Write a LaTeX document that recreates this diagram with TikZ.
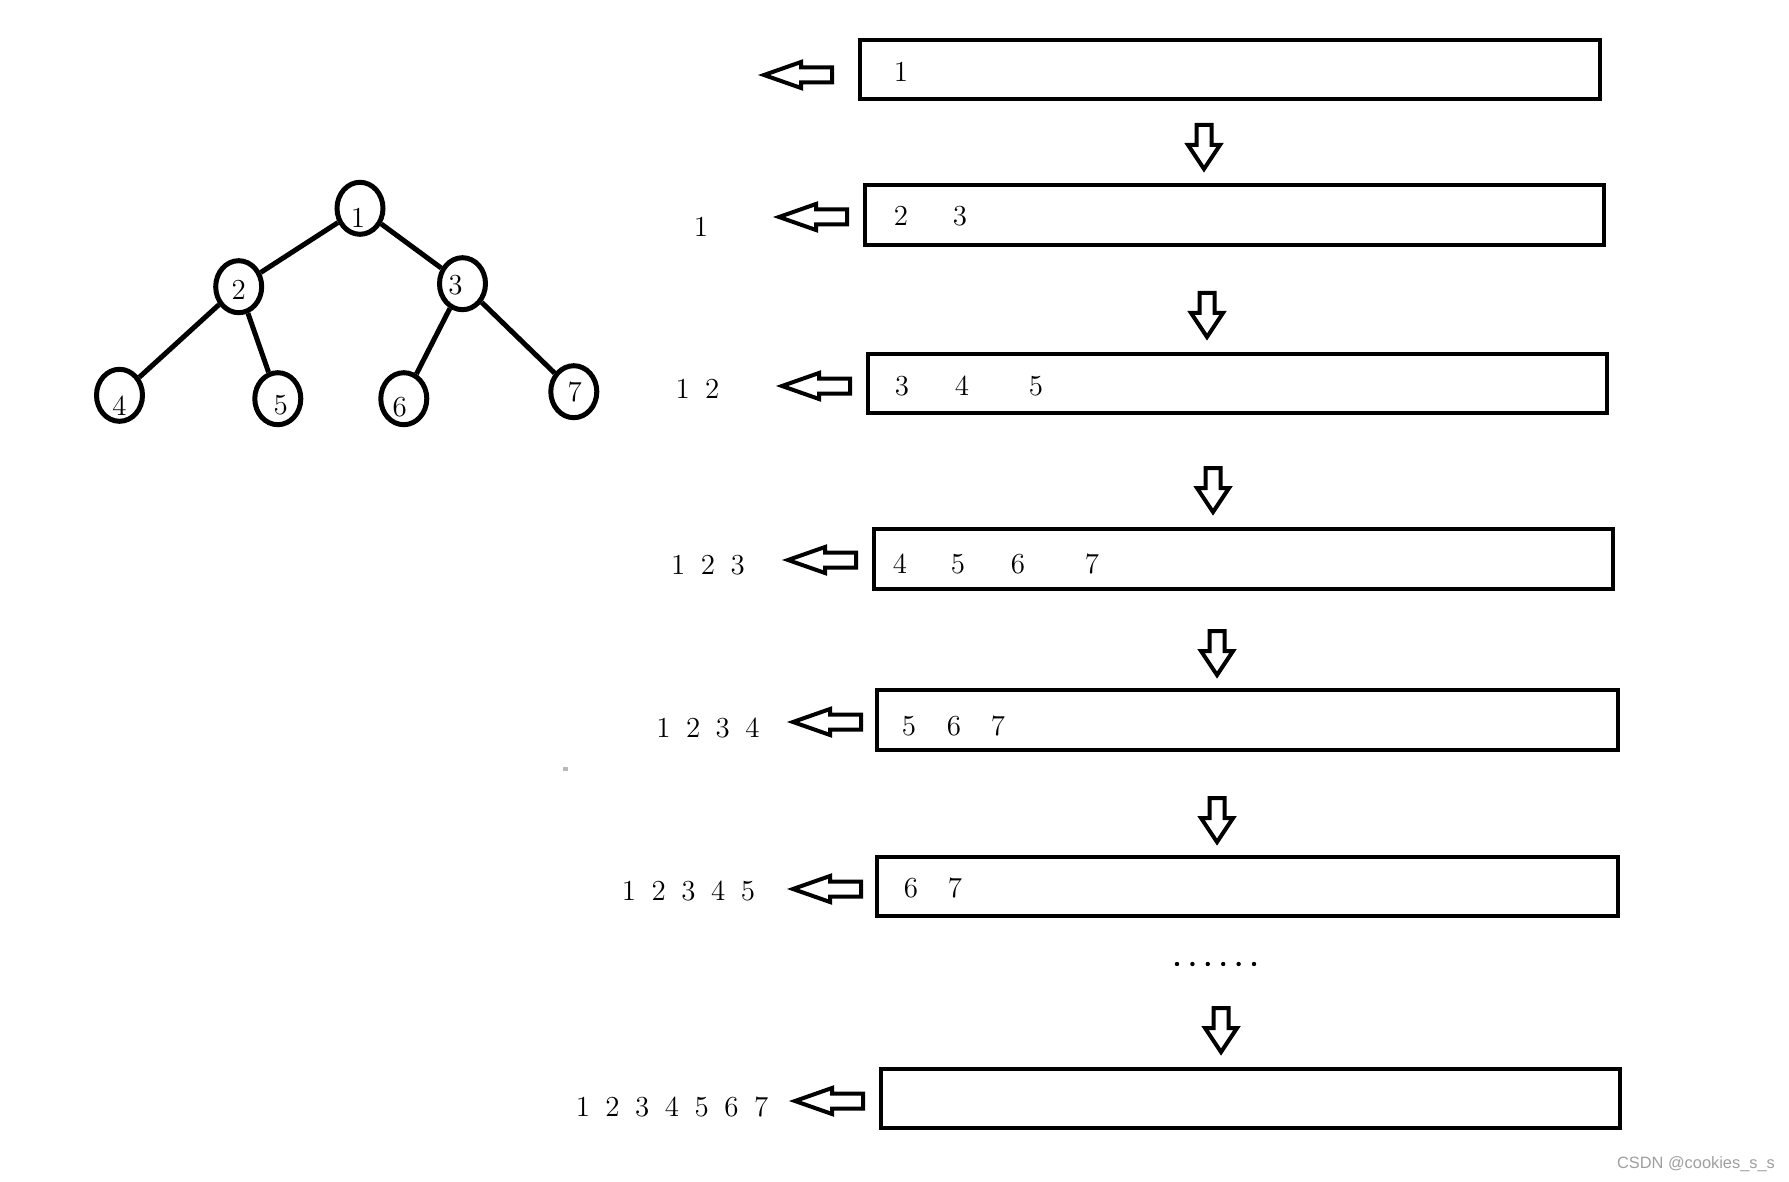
\documentclass[tikz,border=0pt]{standalone}
\usepackage{fontspec}
\newfontfamily\wmfont{Liberation Sans}
\usetikzlibrary{shapes.geometric}
\newcommand\dgap{\hskip7.75pt}
\tikzset{
  hollow/.style={line width=2pt, draw=black, fill=white, line join=miter},
  box/.style={draw, line width=2.25pt, rectangle, inner sep=0pt},
  tnode/.style={draw, ellipse, line width=2.5pt, inner sep=0pt, minimum width=23pt, minimum height=26pt},
  tlab/.style={inner sep=0pt, font=\fontsize{14.5}{16}\selectfont},
  tedge/.style={line width=2.5pt},
  dig/.style={inner sep=0pt, font=\fontsize{14.5}{16}\selectfont},
  larr/.pic={\draw[hollow] (0,0) -- (37,-13) -- (37,-7.5) -- (68,-7.5) -- (68,7.5) -- (37,7.5) -- (37,13) -- cycle;},
  darr/.pic={\draw[hollow] (-7.5,0) -- (7.5,0) -- (7.5,20) -- (16,20) -- (0,44) -- (-16,20) -- (-7.5,20) -- cycle;}
}
\begin{document}
\begin{tikzpicture}[x=0.5pt, y=-0.5pt]
\useasboundingbox[fill=white] (0,0) rectangle (1789,1182);

% tree
\node[tnode, label={[tlab, xshift=-1pt, yshift=-5pt]center:1}] (t1) at (360,208.3) {};
\node[tnode, label={[tlab, yshift=-1.5pt]center:2}] (t2) at (238.7,286.7) {};
\node[tnode, label={[tlab, xshift=-3.5pt, yshift=-0.5pt]center:3}] (t3) at (462.5,283.7) {};
\node[tnode, label={[tlab, yshift=-5pt]center:4}] (t4) at (119.5,395.3) {};
\node[tnode, label={[tlab, xshift=1.5pt, yshift=-3pt]center:5}] (t5) at (277.8,398.7) {};
\node[tnode, label={[tlab, xshift=-2pt, yshift=-4pt]center:6}] (t6) at (403.8,398.7) {};
\node[tnode, label={[tlab, xshift=0.5pt]center:7}] (t7) at (573.8,391.7) {};
\draw[tedge] (t1) -- (t2);
\draw[tedge] (t1) -- (t3);
\draw[tedge] (t2) -- (t4);
\draw[tedge] (t2) -- (t5);
\draw[tedge] (t3) -- (t6);
\draw[tedge] (t3) -- (t7);

% boxes
\node[box, minimum width=370pt, minimum height=29.5pt] (b1) at (1230,69.5) {};
\node[box, minimum width=369.5pt, minimum height=30pt] (b2) at (1234.5,215) {};
\node[box, minimum width=369.5pt, minimum height=29.5pt] (b3) at (1237.5,383.5) {};
\node[box, minimum width=369.5pt, minimum height=30pt] (b4) at (1243.5,559) {};
\node[box, minimum width=370.5pt, minimum height=30pt] (b5) at (1247.5,720) {};
\node[box, minimum width=370.5pt, minimum height=29.5pt] (b6) at (1247.5,886.5) {};
\node[box, minimum width=369.5pt, minimum height=29.5pt] (b7) at (1250.5,1098.5) {};

% box contents
\node[dig] (b1a) at (901,72) {1};
\node[dig] (b2a) at (901,216) {2};
\node[dig] (b2b) at (960,216) {3};
\node[dig] (b3a) at (902,386) {3};
\node[dig] (b3b) at (962,386) {4};
\node[dig] (b3c) at (1036,386) {5};
\node[dig] (b4a) at (900,564) {4};
\node[dig] (b4b) at (958,564) {5};
\node[dig] (b4c) at (1018,564) {6};
\node[dig] (b4d) at (1092,564) {7};
\node[dig] (b5a) at (909,726) {5};
\node[dig] (b5b) at (954,726) {6};
\node[dig] (b5c) at (998,726) {7};
\node[dig] (b6a) at (911,888) {6};
\node[dig] (b6b) at (955,888) {7};

% output sequences
\node[dig] (l2) at (701,227) {1};
\node[dig] (l3) at (697.5,389) {1\dgap 2};
\node[dig] (l4) at (708,565) {1\dgap 2\dgap 3};
\node[dig] (l5) at (708,728) {1\dgap 2\dgap 3\dgap 4};
\node[dig] (l6) at (688.5,891) {1\dgap 2\dgap 3\dgap 4\dgap 5};
\node[dig] (l7) at (672,1107) {1\dgap 2\dgap 3\dgap 4\dgap 5\dgap 6\dgap 7};

% hollow left arrows
\pic at (764,75) {larr};
\pic at (779,217) {larr};
\pic at (782,386) {larr};
\pic at (788,560) {larr};
\pic at (793,722) {larr};
\pic at (793,889) {larr};
\pic at (795,1101) {larr};

% hollow down arrows
\pic at (1204,125) {darr};
\pic at (1207,293) {darr};
\pic at (1213,468) {darr};
\pic at (1217,631) {darr};
\pic at (1217,798) {darr};
\pic at (1221,1008) {darr};

% dots
\foreach \i in {0,...,5} \fill (1177+15.4*\i,964) circle (1.1pt);

% stray mark
\fill[gray!55] (563,767) rectangle (568,771);

% watermark
\node[inner sep=0pt, text=gray!75, font=\wmfont\fontsize{8.2}{9}\selectfont] (wm) at (1696,1164) {CSDN @cookies\_s\_s};
\end{tikzpicture}
\end{document}
